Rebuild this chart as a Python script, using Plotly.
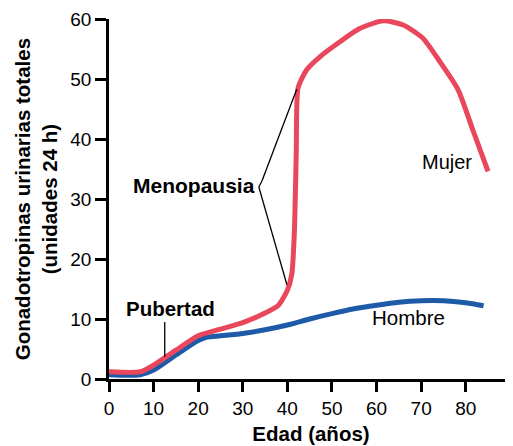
import plotly.graph_objects as go

# Data
edad_mujer = [0, 7, 10, 15, 20, 25, 30, 35, 38, 40, 41, 41.6, 42, 42.4, 44.3, 47.3, 51.8, 56.2, 61.5, 66, 70.4, 74.2, 78.3, 81.6, 85]
val_mujer = [1.2, 1.2, 2.3, 4.8, 7.2, 8.3, 9.4, 11, 12.3, 14.8, 17.5, 25, 38, 48.5, 51.5, 53.7, 56.2, 58.4, 59.7, 59, 56.8, 52.9, 48.2, 41.5, 34.6]

edad_hombre = [0, 7, 10, 15, 20, 22, 25, 30, 35, 40, 45, 50, 55, 60, 65, 70, 75, 80, 84]
val_hombre = [0.7, 0.7, 1.5, 4.0, 6.4, 7.0, 7.2, 7.6, 8.2, 9.0, 10.0, 10.9, 11.7, 12.3, 12.8, 13.05, 13.05, 12.7, 12.2]

x_ticks = [0, 10, 20, 30, 40, 50, 60, 70, 80]
y_ticks = [0, 10, 20, 30, 40, 50, 60]

RED = "#E8475C"
BLUE = "#1D5BA8"
FONT = "Liberation Sans, Arial, sans-serif"

fig = go.Figure()
fig.add_trace(go.Scatter(x=edad_hombre, y=val_hombre, mode="lines",
                         line=dict(color=BLUE, width=5, shape="spline", smoothing=0.8),
                         name="Hombre", hoverinfo="skip"))
fig.add_trace(go.Scatter(x=edad_mujer, y=val_mujer, mode="lines",
                         line=dict(color=RED, width=5, shape="spline", smoothing=0.6),
                         name="Mujer", hoverinfo="skip"))

# Annotation lines
fig.add_shape(type="line", x0=33.6, y0=32.0, x1=34.3, y1=33.0, line=dict(color="black", width=1.3))
fig.add_shape(type="line", x0=34.3, y0=33.0, x1=42.1, y1=48.3, line=dict(color="black", width=1.3))
fig.add_shape(type="line", x0=33.6, y0=32.0, x1=39.9, y1=15.7, line=dict(color="black", width=1.3))
fig.add_shape(type="line", x0=12.5, y0=9.5, x1=12.5, y1=3.7, line=dict(color="black", width=1.3))

fig.add_annotation(x=33.1, y=32.3, text="<b>Menopausia</b>", showarrow=False, xanchor="right",
                   font=dict(size=21, color="black", family=FONT))
fig.add_annotation(x=13.9, y=11.8, text="<b>Pubertad</b>", showarrow=False,
                   font=dict(size=20.5, color="black", family=FONT))
fig.add_annotation(x=75.9, y=36.2, text="Mujer", showarrow=False,
                   font=dict(size=20, color="black", family=FONT))
fig.add_annotation(x=67.1, y=10.3, text="Hombre", showarrow=False,
                   font=dict(size=20.5, color="black", family=FONT))

# Y title as rotated annotation
fig.add_annotation(xref="paper", yref="paper", x=-0.18, y=0.5, textangle=-90,
                   text="<b>Gonadotropinas urinarias totales<br>(unidades 24 h)</b>",
                   showarrow=False, xanchor="center", yanchor="middle",
                   font=dict(size=20.5, color="black", family=FONT))

# The page body adds an 8px offset at top/left; compensate so the plot area lands where the reference has it
fig.update_layout(
    width=505, height=438,
    margin=dict(l=101, r=0, t=11, b=67),
    paper_bgcolor="white", plot_bgcolor="white",
    showlegend=False,
    font=dict(family=FONT, color="black"),
    xaxis=dict(range=[0, 90.6], tickvals=x_ticks, showgrid=False, zeroline=False,
               showline=True, linecolor="black", linewidth=2.5,
               ticks="outside", ticklen=10, tickwidth=2.5, tickcolor="black",
               tickfont=dict(size=19, color="black"),
               title=dict(text="<b>Edad (años)</b>", font=dict(size=20.5, color="black"), standoff=10)),
    yaxis=dict(range=[0, 60], tickvals=y_ticks, showgrid=False, zeroline=False,
               showline=True, linecolor="black", linewidth=2.5,
               ticks="outside", ticklen=11, tickwidth=2.5, tickcolor="black",
               tickfont=dict(size=19, color="black")),
)

fig.write_html("out.html")
